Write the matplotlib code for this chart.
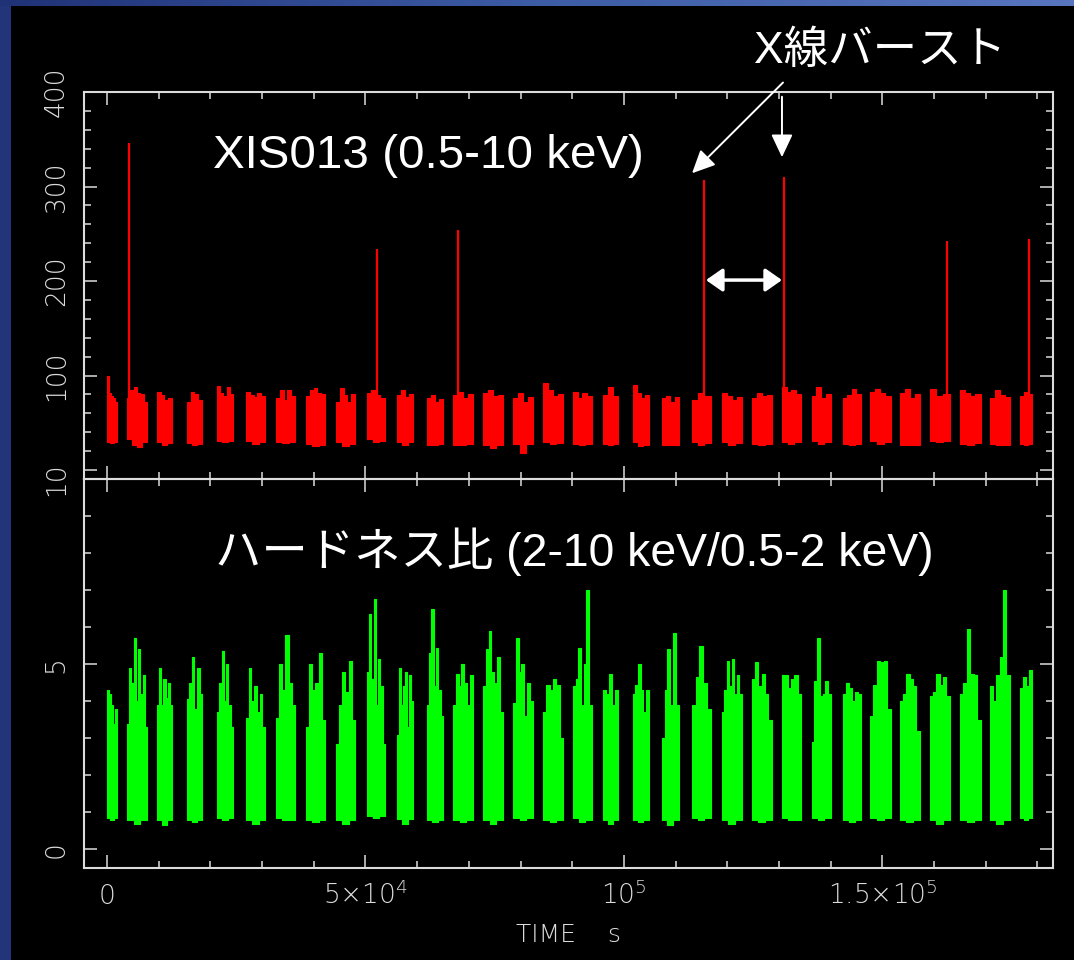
import numpy as np
import matplotlib
matplotlib.use("Agg")
import matplotlib.pyplot as plt
from matplotlib.patches import Rectangle
from matplotlib.ticker import MultipleLocator, FixedLocator, FixedFormatter

# ---- observation segments (s) -------------------------------------------
seg_start = [0, 3870, 9670, 15470, 21280, 26890, 32690, 38490, 44290, 50280,
             56080, 61880, 66910, 72710, 78510, 84310, 90110, 95910, 101710,
             107320, 113120, 118930, 124730, 130530, 136330, 142330, 147550,
             153350, 159150, 164950, 170750, 176550]
seg_stop = [1930, 7740, 12570, 18380, 24370, 30560, 36360, 42160, 47970, 53760,
            59170, 64970, 70780, 76580, 82370, 88180, 93780, 98810, 104800,
            110610, 116800, 122790, 128590, 134200, 140000, 145810, 151610,
            157210, 163010, 169010, 174620, 178870]

# XIS013 count rate envelope per segment (counts/s)
rate_hi = [
    [100, 81, 78, 76, 72], [76, 85, 88, 81, 80, 72], [83, 79, 74, 76],
    [72, 83, 80, 74], [89, 81, 78, 88, 80], [83, 79, 77, 81, 78],
    [76, 85, 74, 85, 78], [78, 85, 87, 81, 80], [72, 87, 79, 72, 80],
    [81, 85, 79, 76], [79, 85, 77, 80], [76, 79, 72, 75], [79, 83, 76, 80],
    [81, 85, 78, 79], [76, 81, 72, 77], [92, 85, 78, 80], [83, 76, 81, 78],
    [79, 88, 78], [90, 81, 76, 79], [76, 78, 72, 77], [74, 81, 78],
    [81, 78, 74, 77], [76, 81, 78, 79], [88, 83, 85, 80], [78, 88, 76, 80],
    [76, 79, 86, 80], [83, 86, 81, 78], [81, 86, 76, 80], [86, 78, 80],
    [85, 81, 78, 80], [76, 85, 79, 77], [78, 83, 80]]
rate_lo = [
    [30, 29, 30], [33, 26, 24, 30], [30, 27, 29], [29, 26, 28], [31, 30, 31],
    [31, 28, 30], [30, 29, 30], [28, 25, 27], [30, 25, 28], [33, 30, 31],
    [30, 27, 30], [27, 26, 28], [27, 26, 28], [26, 23, 26], [28, 18, 28],
    [30, 28, 29], [28, 27, 28], [28, 26, 28], [30, 25, 27], [27, 26, 27],
    [30, 27, 29], [30, 27, 29], [28, 27, 28], [30, 28, 30], [31, 28, 30],
    [28, 27, 28], [31, 28, 30], [27, 26, 27], [31, 30, 31], [28, 27, 29],
    [28, 26, 27], [28, 27, 28]]

# X-ray bursts
burst_time = [4160, 52220, 67990, 115470, 130870, 162470, 178450]
burst_peak = [346, 234, 254, 307, 310, 242, 244]

# hardness ratio (2-10 keV / 0.5-2 keV) envelope per segment
hr_hi = [
    [4.3, 4.2, 3.9, 3.4, 3.8], [3.4, 4.9, 4.5, 5.7, 4.0, 5.4, 4.2, 4.7, 3.3],
    [3.9, 4.9, 3.9, 4.6, 4.1, 4.5, 3.9], [4.05, 4.5, 5.2, 3.8, 4.9, 4.2],
    [3.7, 4.5, 5.35, 4.0, 5.0, 3.9, 3.3], [3.55, 4.9, 4.0, 4.4, 3.7, 4.2, 3.3],
    [3.55, 5.0, 4.3, 5.8, 4.5, 3.9], [3.3, 5.0, 4.3, 4.5, 5.3, 3.5],
    [2.85, 3.9, 4.8, 4.25, 5.1, 3.5], [4.8, 6.35, 4.6, 6.75, 3.9, 5.15, 4.4, 2.85],
    [3.1, 4.9, 3.9, 4.4, 4.8, 3.3, 4.7, 4.0], [3.9, 5.3, 6.5, 4.4, 5.45, 4.3, 3.6],
    [3.9, 4.75, 4.4, 5.0, 4.5, 3.9, 4.7], [4.4, 5.4, 5.9, 4.8, 4.5, 5.2, 3.7],
    [3.95, 5.7, 4.8, 5.0, 3.6, 4.5, 4.0], [3.7, 4.45, 4.3, 4.6, 4.45, 3.0],
    [4.4, 4.6, 5.45, 3.9, 5.0, 7.0, 3.9], [4.3, 4.2, 4.75, 3.9, 4.3],
    [4.2, 4.45, 5.0, 4.3, 3.7, 4.3], [3.0, 4.3, 5.4, 3.9, 5.85, 3.9],
    [3.9, 4.65, 5.5, 4.5, 3.8], [3.7, 4.3, 5.1, 4.4, 5.15, 4.2, 4.7, 4.2],
    [4.6, 5.05, 4.4, 4.75, 4.2, 3.5], [4.7, 4.7, 4.35, 4.6, 4.7, 4.2],
    [2.9, 4.55, 5.7, 4.15, 4.2, 4.55, 4.2], [4.2, 4.5, 4.35, 4.0, 4.25, 4.2],
    [3.6, 4.45, 5.1, 5.05, 5.1, 3.8], [4.0, 4.2, 4.75, 4.6, 4.4, 3.2],
    [4.15, 4.25, 4.75, 4.45, 4.65, 4.15], [4.2, 4.5, 5.95, 4.75, 4.7, 3.5],
    [4.4, 4.0, 4.7, 5.2, 7.0, 4.7], [4.35, 4.65, 4.4, 4.85]]
hr_lo = [
    [0.85, 0.8, 0.85], [0.8, 0.7, 0.8], [0.8, 0.65, 0.8], [0.8, 0.75, 0.8],
    [0.85, 0.8, 0.85], [0.8, 0.7, 0.8], [0.85, 0.8, 0.8], [0.8, 0.75, 0.8],
    [0.8, 0.7, 0.8], [0.9, 0.85, 0.9], [0.83, 0.7, 0.83], [0.8, 0.75, 0.8],
    [0.8, 0.75, 0.8], [0.8, 0.7, 0.8], [0.85, 0.8, 0.85], [0.8, 0.75, 0.8],
    [0.85, 0.75, 0.8], [0.8, 0.7, 0.8], [0.8, 0.75, 0.8], [0.8, 0.65, 0.8],
    [0.85, 0.8, 0.85], [0.8, 0.7, 0.8], [0.8, 0.75, 0.8], [0.85, 0.8, 0.8],
    [0.85, 0.8, 0.85], [0.8, 0.75, 0.8], [0.85, 0.8, 0.85], [0.8, 0.75, 0.8],
    [0.8, 0.7, 0.8], [0.8, 0.75, 0.8], [0.8, 0.7, 0.8], [0.85, 0.8, 0.85]]

x_major = [0, 50000, 100000, 150000]
x_labels = ["0", r"$5{\times}10^4$", r"$10^5$", r"$1.5{\times}10^5$"]
rate_ticks = [0, 100, 200, 300, 400]
rate_labels = ["", "100", "200", "300", "400"]
hr_ticks = [0, 5, 10]
hr_labels = ["0", "5", "10"]

RED = "#ff0000"
GREEN = "#00ff00"
AXC = "#dcdcdc"
JP = ["Liberation Sans", "Noto Sans CJK JP", "DejaVu Sans"]

plt.rcParams["mathtext.default"] = "regular"
plt.rcParams["font.family"] = ["DejaVu Sans"]

W, H = 1074, 960
fig = plt.figure(figsize=(W / 100, H / 100), dpi=100, facecolor="#22357a")

# black slide area with a blue strip across the top
fig.patches.append(Rectangle((11 / W, 0), 1, 954 / H, transform=fig.transFigure,
                             facecolor="black", edgecolor="none", zorder=0))
band = fig.add_axes([0, 954 / H, 1, 6 / H], zorder=1)
band.imshow(np.linspace(0, 1, 256)[None, :], aspect="auto",
            cmap=matplotlib.colors.LinearSegmentedColormap.from_list(
                "band", ["#1f3276", "#3d5ca6", "#5876bf"]))
band.set_axis_off()

left, width = 84 / W, 969 / W
ax1 = fig.add_axes([left, 1 - 479 / H, width, 387 / H], zorder=2)
ax2 = fig.add_axes([left, 1 - 868 / H, width, 389 / H], zorder=2)


def step_on(edges, vals, x):
    idx = np.clip(np.searchsorted(edges, x, side="right") - 1, 0, len(vals) - 1)
    return np.asarray(vals, dtype=float)[idx]


def draw_segments(ax, hi_list, lo_list, color):
    for t0, t1, hi, lo in zip(seg_start, seg_stop, hi_list, lo_list):
        e_hi = np.linspace(t0, t1, len(hi) + 1)
        e_lo = np.linspace(t0, t1, len(lo) + 1)
        grid = np.unique(np.concatenate([e_hi, e_lo]))
        probe = np.append(0.5 * (grid[:-1] + grid[1:]), grid[-1] - 1e-6)
        ax.fill_between(grid, step_on(e_lo, lo, probe), step_on(e_hi, hi, probe),
                        step="post", color=color, linewidth=0.8, edgecolor=color)


draw_segments(ax1, rate_hi, rate_lo, RED)
ax1.vlines(burst_time, 60, burst_peak, color=RED, linewidth=1.6)
draw_segments(ax2, hr_hi, hr_lo, GREEN)

for ax in (ax1, ax2):
    ax.set_facecolor("none")
    ax.set_xlim(-4450, 183000)
    for s in ax.spines.values():
        s.set_color(AXC)
        s.set_linewidth(1.5)
    ax.xaxis.set_major_locator(FixedLocator(x_major))
    ax.xaxis.set_minor_locator(MultipleLocator(10000))
    ax.tick_params(which="both", direction="in", colors=AXC, top=True, right=True,
                   width=1.1)
    ax.tick_params(which="major", length=9.5)
    ax.tick_params(which="minor", length=5.2)
    ax.tick_params(axis="y", labelrotation=90, labelsize=19, pad=11)

ax1.set_ylim(-9.5, 400)
ax1.yaxis.set_major_locator(FixedLocator(rate_ticks))
ax1.yaxis.set_major_formatter(FixedFormatter(rate_labels))
ax1.yaxis.set_minor_locator(MultipleLocator(20))
ax1.tick_params(axis="x", labelbottom=False)

ax2.set_ylim(-0.5, 10.0)
ax2.yaxis.set_major_locator(FixedLocator(hr_ticks))
ax2.yaxis.set_major_formatter(FixedFormatter(hr_labels))
ax2.yaxis.set_minor_locator(MultipleLocator(1))
ax2.xaxis.set_major_formatter(FixedFormatter(x_labels))
ax2.tick_params(axis="x", labelsize=19, pad=26)

for ax in (ax1, ax2):
    for lab in ax.get_yticklabels():
        lab.set_verticalalignment("center")
        lab.set_fontweight("light")
    for lab in ax.get_xticklabels():
        lab.set_verticalalignment("baseline")
        lab.set_fontweight("light")

ax2.text(0.5, -0.19, "TIME    s", transform=ax2.transAxes, ha="center",
         va="baseline", fontsize=18, color=AXC, fontweight="light")

# panel titles
ax1.text(0.1331, 0.8036, "XIS013 (0.5-10 keV)", transform=ax1.transAxes,
         ha="left", va="baseline", fontsize=34.2, color="white", family=JP)
ax2.text(0.1352, 0.776, "ハードネス比 (2-10 keV/0.5-2 keV)", transform=ax2.transAxes,
         ha="left", va="baseline", fontsize=33.4, color="white", family=JP)
ax1.text(0.8215, 1.075, "X線バースト", transform=ax1.transAxes, ha="center",
         va="baseline", fontsize=32, color="white", family=JP, clip_on=False)

# arrows pointing at two consecutive bursts and the interval between them
t4, t5 = burst_time[3], burst_time[4]
head = dict(arrowstyle="-|>,head_length=0.7,head_width=0.33", color="white",
            lw=1.4, shrinkA=0, shrinkB=0, mutation_scale=20)
ax1.annotate("", xy=(t4 - 2300, 314), xytext=(t5 - 100, 410), arrowprops=head,
             annotation_clip=False)
ax1.annotate("", xy=(t5 - 300, 331), xytext=(t5 - 300, 395), arrowprops=head,
             annotation_clip=False)
ax1.annotate("", xy=(t4 + 400, 201), xytext=(t5 - 300, 201),
             arrowprops=dict(arrowstyle="<|-|>,head_length=0.5,head_width=0.35",
                             color="white", lw=2.5, shrinkA=0, shrinkB=0,
                             mutation_scale=20))

fig.savefig("out.png", dpi=100, facecolor=fig.get_facecolor())
